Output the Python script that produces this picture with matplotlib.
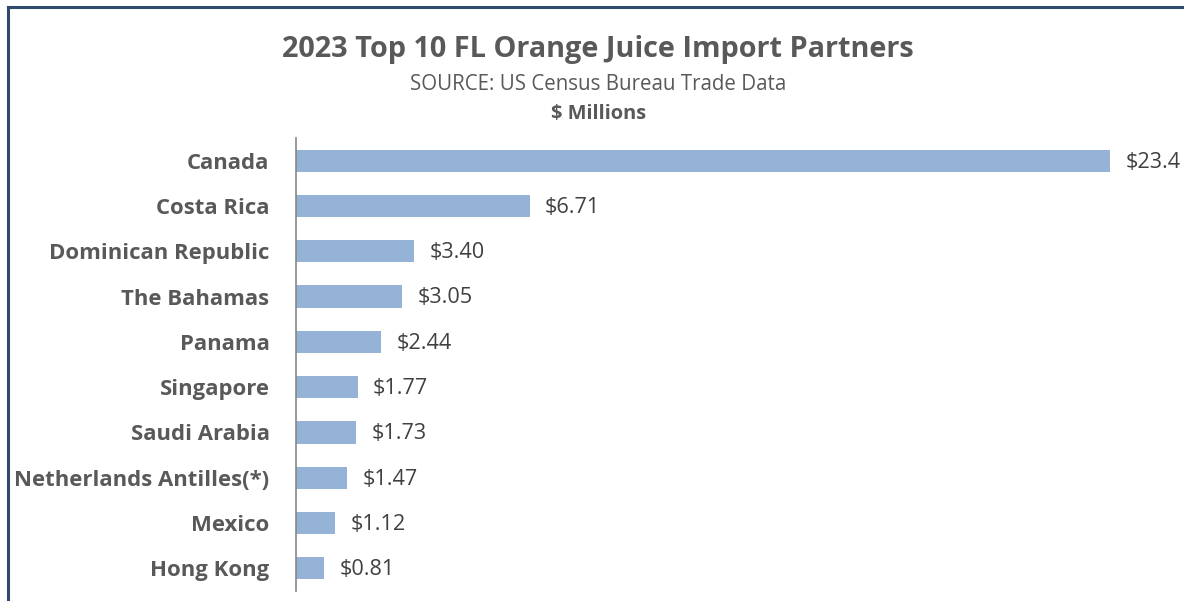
import matplotlib
matplotlib.use("Agg")
import matplotlib.pyplot as plt
from matplotlib.lines import Line2D

countries = ["Canada", "Costa Rica", "Dominican Republic", "The Bahamas", "Panama",
             "Singapore", "Saudi Arabia", "Netherlands Antilles(*)", "Mexico", "Hong Kong"]
values = [23.4, 6.71, 3.40, 3.05, 2.44, 1.77, 1.73, 1.47, 1.12, 0.81]
value_labels = ["$23.4", "$6.71", "$3.40", "$3.05", "$2.44", "$1.77", "$1.73", "$1.47", "$1.12", "$0.81"]

title = "2023 Top 10 FL Orange Juice Import Partners"
subtitle = "SOURCE: US Census Bureau Trade Data"
unit = "$ Millions"

W, H = 1184, 601
plt.rcParams['font.family'] = ['Open Sans', 'DejaVu Sans']
fig = plt.figure(figsize=(W / 100, H / 100), dpi=100)

# axes in pixel coordinates
x0, x1 = 296, 1166
y_top, y_bot = 138, 591
ax = fig.add_axes([x0 / W, 1 - y_bot / H, (x1 - x0) / W, (y_bot - y_top) / H])

pos = list(range(len(countries)))
ax.barh(pos, values, height=0.49, color="#95B3D7")
ax.set_ylim(len(countries) - 0.5, -0.5)
ax.set_xlim(0, 25)
ax.set_yticks(pos)
ax.set_yticklabels(countries, fontsize=15.9, fontweight="bold", color="#595959")
ax.tick_params(axis="y", length=0, pad=19)
ax.set_xticks([])
for s in ["top", "right", "bottom"]:
    ax.spines[s].set_visible(False)
ax.spines["left"].set_color("#868686")
ax.spines["left"].set_linewidth(1.2)

for p, v, lab in zip(pos, values, value_labels):
    ax.annotate(lab, (v, p), xytext=(11, -1), textcoords="offset points",
                va="center", ha="left", fontsize=15.6, color="#404040")

fig.text(598 / W, 1 - 49 / H, title, ha="center", va="center", fontsize=20.8,
         fontweight="bold", color="#595959")
fig.text(598 / W, 1 - 85 / H, subtitle, ha="center", va="center", fontsize=14.8,
         color="#595959")
fig.text(599 / W, 1 - 114 / H, unit, ha="center", va="center", fontsize=14.4,
         fontweight="bold", color="#595959")

# frame border (top and left)
border = "#2E4A6E"
fig.add_artist(Line2D([7.5 / W, 1], [1 - 6.5 / H, 1 - 6.5 / H], transform=fig.transFigure,
                      color=border, linewidth=2.2))
fig.add_artist(Line2D([7.5 / W, 7.5 / W], [0, 1 - 6.5 / H], transform=fig.transFigure,
                      color=border, linewidth=2.2))

fig.savefig("out.png", dpi=100)
